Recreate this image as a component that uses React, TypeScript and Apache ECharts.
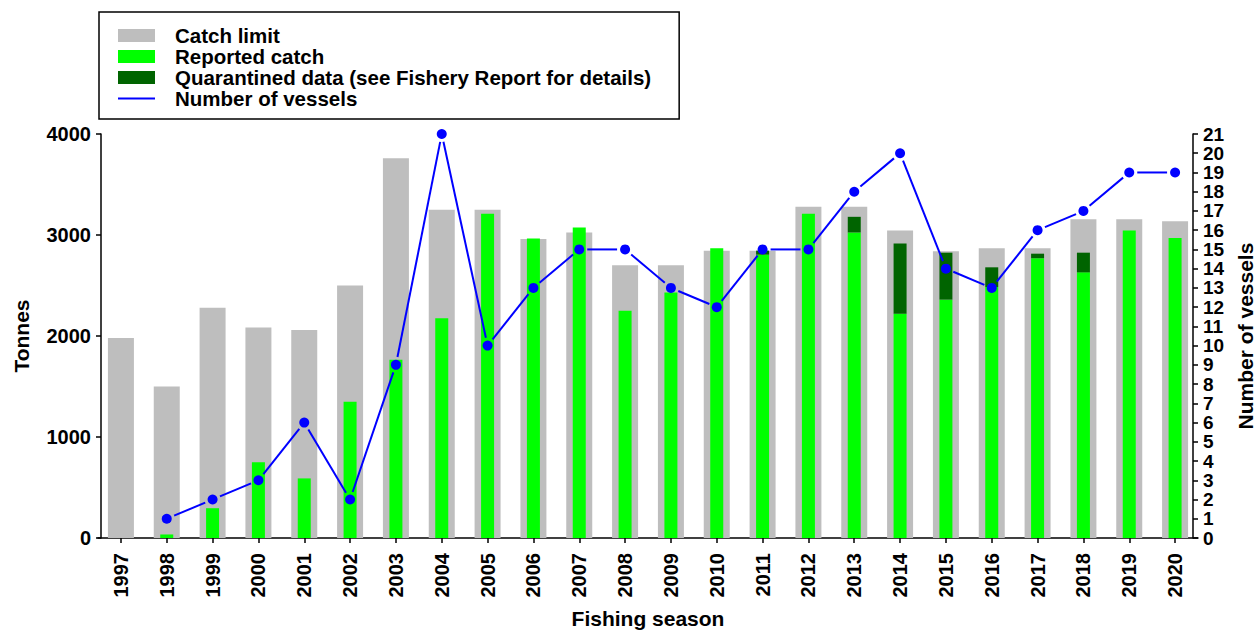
import React, { useEffect, useRef } from "react";
import * as echarts from "echarts";

const seasons = ["1997","1998","1999","2000","2001","2002","2003","2004","2005","2006","2007","2008","2009","2010","2011","2012","2013","2014","2015","2016","2017","2018","2019","2020"];
const catchLimit = [1980, 1500, 2280, 2085, 2060, 2500, 3760, 3250, 3250, 2960, 3025, 2700, 2700, 2845, 2845, 3280, 3280, 3045, 2840, 2870, 2870, 3155, 3155, 3135];
const reportedCatch = [0, 35, 295, 750, 590, 1350, 1765, 2175, 3210, 2965, 3075, 2250, 2430, 2870, 2805, 3210, 3025, 2220, 2360, 2485, 2770, 2630, 3045, 2970];
const quarantined = [0, 0, 0, 0, 0, 0, 0, 0, 0, 0, 0, 0, 0, 0, 40, 0, 155, 695, 465, 195, 45, 195, 0, 0];
const vessels: (number | null)[] = [null, 1, 2, 3, 6, 2, 9, 21, 10, 13, 15, 15, 13, 12, 15, 15, 18, 20, 14, 13, 16, 17, 19, 19];
const tonnesTicks = { min: 0, max: 4000, interval: 1000 };
const vesselTicks = { min: 0, max: 21, interval: 1 };

const FONT = "'Liberation Sans', Arial, sans-serif";
const W = 1257;
const H = 631;

export default function App() {
  const ref = useRef<HTMLDivElement>(null);
  useEffect(() => {
    if (!ref.current) return;
    document.body.style.margin = "0";
    document.body.style.overflow = "hidden";
    const chart = echarts.init(ref.current, null, { renderer: "svg", width: W, height: H });
    const segments = vessels
      .map((v, i) => (i > 0 && v != null && vessels[i - 1] != null ? [i, vessels[i - 1], v] : null))
      .filter(Boolean);
    const axisLabel = { color: "#000", fontWeight: "bold", fontSize: 20, fontFamily: FONT };
    const nameStyle = { color: "#000", fontWeight: "bold", fontSize: 21, fontFamily: FONT };
    chart.setOption({
      animation: false,
      backgroundColor: "#fff",
      grid: { left: 98, right: 59, top: 134, bottom: 93, containLabel: false, outerBoundsMode: "none" },
      legend: {
        orient: "vertical",
        left: 99,
        top: 12,
        padding: [13, 28, 10, 19],
        borderColor: "#000",
        borderWidth: 1.5,
        itemWidth: 37,
        itemHeight: 13,
        itemGap: 0,
        selectedMode: false,
        textStyle: { color: "#000", fontWeight: "bold", fontSize: 20.5, fontFamily: FONT, lineHeight: 20.5, padding: [0, 0, 0, 15] },
        data: [
          { name: "Catch limit", icon: "rect" },
          { name: "Reported catch", icon: "rect" },
          { name: "Quarantined data (see Fishery Report for details)", icon: "rect" },
          { name: "Number of vessels", icon: "path://M0,0 L37,0 L37,2 L0,2 Z" },
        ],
      },
      xAxis: [
        {
          type: "category",
          data: seasons,
          name: "Fishing season",
          nameLocation: "middle",
          nameGap: 70,
          nameTextStyle: nameStyle,
          axisLine: { show: true, lineStyle: { color: "#000", width: 1.5 } },
          axisTick: { show: true, alignWithLabel: true, interval: 0, length: 5, lineStyle: { color: "#000", width: 1.5 } },
          axisLabel: { ...axisLabel, rotate: 90, interval: 0, margin: 15 },
          splitLine: { show: false },
        },
        {
          type: "category",
          data: seasons,
          show: false,
          position: "bottom",
        },
      ],
      yAxis: [
        {
          type: "value",
          ...tonnesTicks,
          position: "left",
          offset: -3,
          name: "Tonnes",
          nameLocation: "middle",
          nameRotate: 90,
          nameGap: 69,
          nameTextStyle: nameStyle,
          axisLine: { show: true, lineStyle: { color: "#000", width: 1.5 } },
          axisTick: { show: true, length: 5, lineStyle: { color: "#000", width: 1.5 } },
          axisLabel: { ...axisLabel, margin: 10, formatter: (v: number) => String(v) },
          splitLine: { show: false },
        },
        {
          type: "value",
          ...vesselTicks,
          position: "right",
          offset: -5,
          name: "Number of vessels",
          nameLocation: "middle",
          nameRotate: 90,
          nameGap: 42,
          nameTextStyle: nameStyle,
          axisLine: { show: true, lineStyle: { color: "#000", width: 1.5 } },
          axisTick: { show: true, length: 5, lineStyle: { color: "#000", width: 1.5 } },
          axisLabel: { ...axisLabel, fontSize: 19, margin: 10 },
          splitLine: { show: false },
        },
      ],
      series: [
        {
          name: "Catch limit",
          type: "bar",
          xAxisIndex: 0,
          yAxisIndex: 0,
          data: catchLimit,
          barWidth: 26,
          itemStyle: { color: "#bebebe" },
          z: 1,
        },
        {
          name: "Reported catch",
          type: "bar",
          xAxisIndex: 1,
          yAxisIndex: 0,
          stack: "catch",
          data: reportedCatch,
          barWidth: 13,
          itemStyle: { color: "#00ff00" },
          z: 2,
        },
        {
          name: "Quarantined data (see Fishery Report for details)",
          type: "bar",
          xAxisIndex: 1,
          yAxisIndex: 0,
          stack: "catch",
          data: quarantined,
          barWidth: 13,
          itemStyle: { color: "#006400" },
          z: 2,
        },
        {
          name: "Number of vessels",
          type: "custom",
          xAxisIndex: 0,
          yAxisIndex: 1,
          data: segments,
          encode: { x: 0, y: 2 },
          itemStyle: { color: "#0000ff" },
          z: 5,
          renderItem: (params: any, api: any) => {
            const i = api.value(0);
            const p0 = api.coord([i - 1, api.value(1)]);
            const p1 = api.coord([i, api.value(2)]);
            const dx = p1[0] - p0[0];
            const dy = p1[1] - p0[1];
            const len = Math.sqrt(dx * dx + dy * dy);
            const gap = 8;
            if (len <= gap * 2) return null;
            const ux = dx / len;
            const uy = dy / len;
            return {
              type: "line",
              shape: { x1: p0[0] + ux * gap, y1: p0[1] + uy * gap, x2: p1[0] - ux * gap, y2: p1[1] - uy * gap },
              style: { stroke: "#0000ff", lineWidth: 2 },
            };
          },
        },
        {
          name: "vessel points",
          type: "scatter",
          xAxisIndex: 0,
          yAxisIndex: 1,
          data: vessels,
          symbol: "circle",
          symbolSize: 10,
          itemStyle: { color: "#0000ff", opacity: 1 },
          z: 6,
        },
      ],
    });
    return () => chart.dispose();
  }, []);
  return <div ref={ref} style={{ position: "fixed", left: 0, top: 0, width: W, height: H }} />;
}
